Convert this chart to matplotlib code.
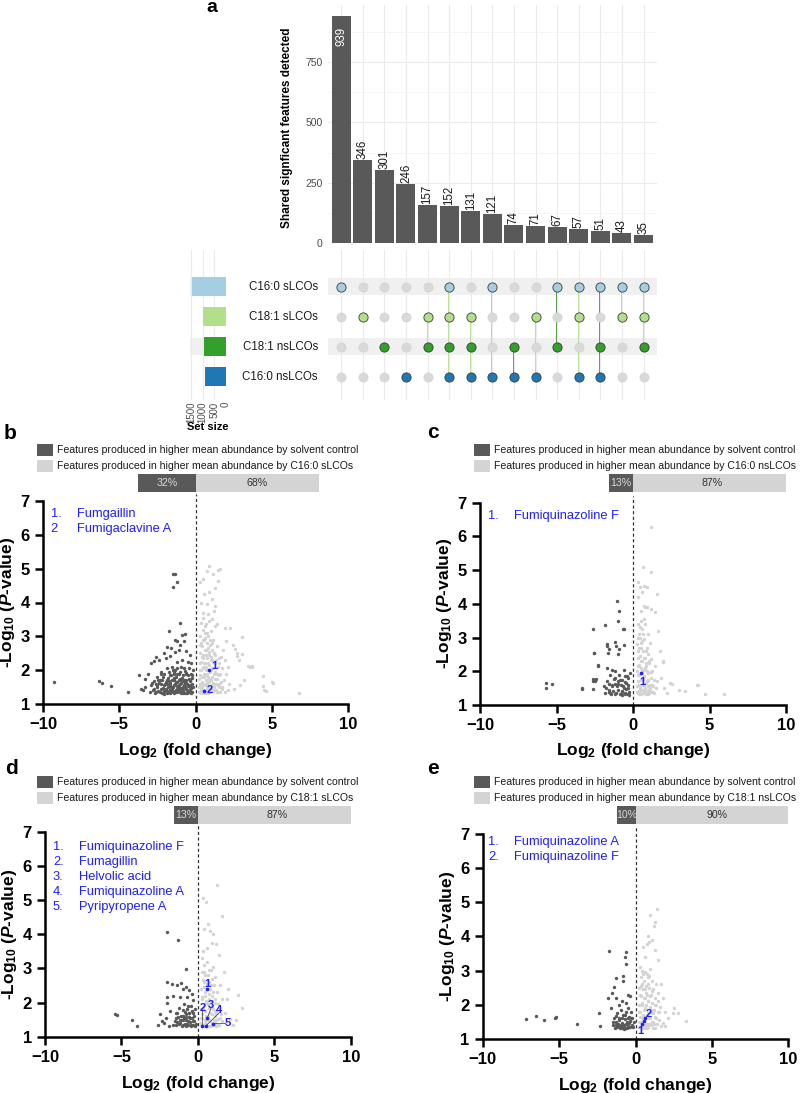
import numpy as np
import matplotlib
matplotlib.use("Agg")
from matplotlib import pyplot as plt
from matplotlib.patches import Rectangle

plt.rcParams['font.family'] = ['Liberation Sans', 'DejaVu Sans']
plt.rcParams['mathtext.fontset'] = 'custom'
plt.rcParams['mathtext.rm'] = 'Liberation Sans:bold'
plt.rcParams['mathtext.it'] = 'Liberation Sans:bold:italic'
plt.rcParams['mathtext.bf'] = 'Liberation Sans:bold'
plt.rcParams['mathtext.default'] = 'rm'

### upset data
set_names = ['C16:0 sLCOs', 'C18:1 sLCOs', 'C18:1 nsLCOs', 'C16:0 nsLCOs']
set_colors = ['#a6cee3', '#b2df8a', '#33a02c', '#1f78b4']
inter_sizes = [939, 346, 301, 246, 157, 152, 131, 121, 74, 71, 67, 57, 51, 43, 35]
inter_members = [[0], [1], [2], [3], [1, 2], [0, 1, 2, 3], [1, 2, 3], [0, 3], [2, 3],
                 [1, 3], [0, 2], [0, 1, 3], [0, 2, 3], [0, 1], [0, 1, 2]]
link_colors = [None, None, None, None, '#b2df8a', '#b2df8a', '#b2df8a', '#a6cee3', '#4a9a3a',
               '#b2df8a', '#3f8f30', '#b2df8a', '#33a02c', '#b2df8a', '#b2df8a']
set_sizes = [sum(v for v, m in zip(inter_sizes, inter_members) if k in m) for k in range(4)]

### volcano data (log2 fold change, -log10 p)
b_ctrl = [(-9.26,1.64),(-6.35,1.68),(-6.14,1.63),(-5.52,1.52),(-4.4,1.36),(-3.71,1.85),(-3.6,1.45),(-3.45,1.4),(-3.3,1.5),
          (-1.46,4.83),(-1.35,4.83),(-1.24,4.6),(-1.46,4.46),(-1.0,3.4),(-1.75,3.15),(-0.68,3.07),(-0.92,3.04),(-1.35,2.88),
          (-1.2,2.86),(-0.74,2.86),(-1.03,2.73),(-1.9,2.68),(-1.64,2.66),(-1.38,2.54),(-1.07,2.6),(-0.63,2.58),(-2.1,2.52),
          (-2.6,2.38),(-2.7,2.28),(-2.9,2.2),(-2.4,2.3),(-1.7,2.42),(-1.95,2.35),(-0.4,2.45),(-0.5,2.25),(-0.3,2.2),(-0.9,2.3),
          (-1.2,2.25),(-3.1,1.9),(-3.3,1.75),(-2.9,1.55),(-2.8,1.4),(-2.7,1.68),(-2.65,1.32),(-2.55,1.5),(-2.5,1.8),(-2.45,1.38),
          (-2.4,1.62),(-2.3,1.95),(-2.3,1.45),(-2.2,1.33),(-2.2,1.72),(-2.1,1.55),(-2.05,1.88),(-2.0,1.4),(-1.95,1.65),(-1.9,2.05),
          (-1.85,1.33),(-1.8,1.5),(-1.8,1.78),(-1.75,1.95),(-1.7,1.42),(-1.65,1.62),(-1.6,1.35),(-1.6,1.85),(-1.55,2.1),(-1.5,1.5),
          (-1.45,1.7),(-1.4,1.32),(-1.4,1.95),(-1.35,1.58),(-1.3,1.42),(-1.3,1.8),(-1.25,2.05),(-1.2,1.35),(-1.2,1.65),(-1.15,1.5),
          (-1.1,1.9),(-1.05,1.38),(-1.0,1.6),(-1.0,1.75),(-0.95,2.1),(-0.95,1.32),(-0.9,1.48),(-0.85,1.68),(-0.8,1.85),(-0.8,1.4),
          (-0.75,1.55),(-0.7,1.33),(-0.7,1.98),(-0.65,1.72),(-0.6,1.45),(-0.55,1.6),(-0.5,1.85),(-0.5,1.35),(-0.45,2.05),(-0.4,1.5),
          (-0.4,1.7),(-0.35,1.4),(-0.3,1.9),(-0.3,1.33),(-0.25,1.6),(-0.22,1.78),(-0.2,2.0),(-1.55,1.45),(-2.6,1.6),(-2.15,1.48),
          (-1.9,1.38),(-0.6,1.92),(-1.1,1.55),(-1.45,1.88),(-1.7,1.55),(-2.35,1.7),(-0.85,1.36),(-1.25,1.45),(-2.75,1.45),(-3.0,1.35),
          (-0.55,1.4),(-0.35,1.55),(-1.65,1.32),(-1.05,1.7),(-0.7,1.62),(-2.05,1.3),(-1.35,2.0),(-0.45,1.35),
          (-2.85,1.62),(-2.6,1.35),(-2.5,1.55),(-2.45,1.72),(-2.35,1.35),(-2.25,1.58),(-2.15,1.8),(-2.1,1.38),(-2.0,1.58),
          (-1.95,1.45),(-1.9,1.72),(-1.85,1.6),(-1.8,1.35),(-1.75,1.68),(-1.7,1.85),(-1.6,1.5),(-1.55,1.7),(-1.5,1.38),
          (-1.45,1.55),(-1.4,1.78),(-1.35,1.35),(-1.3,1.65),(-1.25,1.52),(-1.2,1.88),(-1.15,1.4),(-1.1,1.72),(-1.05,1.48),
          (-1.0,1.35),(-0.95,1.62),(-0.9,1.78),(-0.85,1.5),(-0.8,1.32),(-0.75,1.7),(-0.7,1.5),(-0.65,1.88),(-0.6,1.62),
          (-0.55,1.32),(-0.5,1.52),(-0.45,1.75),(-0.4,1.38),(-0.35,1.68),(-0.3,1.48),(-0.25,1.85),(-0.25,1.35),(-0.2,1.5),
          (-1.65,1.42),(-2.25,1.9),(-1.05,1.95),(-0.75,2.05),(-1.5,2.0)]
b_trt = [(0.85,5.08),(0.72,4.93),(1.48,4.95),(1.59,4.99),(1.16,4.83),(1.48,4.63),(1.27,4.44),(0.5,4.7),(0.3,4.6),(0.9,4.3),
         (0.55,4.25),(1.1,4.1),(0.35,4.0),(0.75,3.95),(1.3,3.9),(1.38,3.36),(1.94,3.26),(2.25,3.26),(3.01,2.97),(2.46,2.73),
         (3.05,2.47),(2.58,2.62),(2.69,2.5),(2.73,2.41),(2.84,2.31),(3.56,2.1),(3.71,2.1),(3.44,2.13),(3.67,2.13),(4.43,1.84),
         (5.04,1.61),(4.43,1.52),(4.59,1.39),(4.46,1.4),(6.77,1.32),(5.0,1.64),(2.0,1.9),(2.2,1.6),(2.5,1.45),(2.9,1.55),(3.2,1.7),
         (1.9,2.3),(2.1,2.1),(1.8,2.6),(2.0,2.85),(0.25,1.35),(0.3,1.6),(0.3,2.0),(0.3,2.5),(0.3,3.0),(0.35,1.45),(0.35,2.25),
         (0.35,3.4),(0.4,1.8),(0.4,2.7),(0.45,1.35),(0.45,2.1),(0.45,3.2),(0.5,1.55),(0.5,2.45),(0.5,3.55),(0.55,1.9),(0.55,2.9),
         (0.6,1.4),(0.6,2.2),(0.6,3.1),(0.65,1.7),(0.65,2.6),(0.7,1.32),(0.7,2.0),(0.7,3.35),(0.75,1.5),(0.75,2.35),(0.75,2.8),
         (0.8,1.8),(0.8,3.0),(0.85,1.4),(0.85,2.15),(0.85,2.55),(0.9,1.65),(0.9,3.45),(0.95,1.35),(0.95,1.95),(0.95,2.75),(1.0,2.3),
         (1.0,3.15),(1.05,1.55),(1.05,2.05),(1.1,1.8),(1.1,2.6),(1.15,1.38),(1.15,2.9),(1.2,2.2),(1.25,1.6),(1.25,3.3),(1.3,1.95),
         (1.3,2.45),(1.35,1.42),(1.4,1.75),(1.4,2.7),(1.45,2.1),(1.5,1.5),(1.55,1.85),(1.55,2.35),(1.6,1.35),(1.65,1.65),(1.7,2.05),
         (1.75,1.45),(0.4,1.5),(0.55,1.32),(0.65,1.55),(0.8,1.32),(1.2,1.5),(0.5,2.05),(0.9,2.45),(0.6,2.95),(0.35,2.8),(1.05,3.5),
         (0.45,3.7),(0.8,3.65),(1.2,3.75),(1.9,1.35),(2.1,1.4),(1.85,1.7),(0.28,1.85),(0.38,1.32),(0.62,1.85),(1.0,1.42),(1.35,1.58),
         (0.72,1.62),(0.48,2.35),
         (0.22,1.5),(0.25,1.75),(0.28,2.2),(0.3,2.75),(0.32,1.4),(0.38,2.0),(0.4,2.4),(0.42,1.65),(0.45,2.9),(0.5,1.4),
         (0.52,1.8),(0.55,2.2),(0.58,2.6),(0.6,1.6),(0.62,3.3),(0.65,1.35),(0.68,2.1),(0.7,2.45),(0.72,1.9),(0.75,3.1),
         (0.78,1.45),(0.8,2.2),(0.82,2.65),(0.85,1.75),(0.88,1.5),(0.9,2.0),(0.92,2.9),(0.95,1.5),(0.98,2.4),(1.0,1.7),
         (1.02,2.0),(1.05,2.8),(1.08,1.4),(1.1,2.3),(1.12,1.62),(1.15,2.05),(1.18,2.5),(1.2,1.9),(1.25,1.42),(1.28,2.2),
         (1.3,1.75),(1.35,2.3),(1.38,1.35),(1.42,1.9),(1.45,1.55),(1.5,2.2),(1.55,1.6),(1.6,1.9),(1.65,2.4),(1.7,1.5)]
b_hits = [(0.9,2.01), (0.55,1.39)]
b_hit_labels = [('1', 1.2, 2.11), ('2', 0.95, 1.41)]
b_names = [('1.', 'Fumgaillin'), ('2', 'Fumigaclavine A')]
b_pct = [32, 68]

c_ctrl = [(-5.7,1.66),(-5.7,1.51),(-5.27,1.62),(-3.35,1.47),(-2.53,2.53),(-2.27,2.19),(-2.64,1.78),(-2.4,1.76),(-1.72,2.81),
          (-1.18,2.86),(-1.02,4.09),(-0.94,3.78),(-1.0,3.49),(-2.64,3.26),(-1.83,3.36),(-0.68,3.24),(-0.62,3.24),(-1.7,2.75),
          (-1.55,2.65),(-1.65,2.55),(-1.1,2.75),(-0.9,2.65),(-1.0,2.5),(-0.61,2.78),(-2.55,2.55),(-2.27,2.16),(-1.72,2.11),
          (-2.64,1.71),(-2.46,1.71),(-3.35,1.49),(-2.64,1.46),(-1.9,1.55),(-1.8,1.35),(-1.7,1.7),(-1.6,1.45),(-1.5,1.9),
          (-1.45,1.32),(-1.4,1.6),(-1.3,1.42),(-1.25,1.78),(-1.2,2.0),(-1.1,1.35),(-1.05,1.55),(-1.0,1.7),(-0.95,1.45),(-0.9,1.9),
          (-0.85,1.33),(-0.8,1.6),(-0.75,1.75),(-0.7,1.42),(-0.65,1.55),(-0.6,2.05),(-0.55,1.35),(-0.5,1.68),(-0.45,1.48),
          (-0.4,1.85),(-0.35,1.33),(-0.3,1.58),(-0.25,1.4),(-0.2,1.95),(-1.35,2.05),(-0.7,1.3),(-1.15,1.62),(-0.55,1.85),(-1.55,1.4),
          (-1.75,1.5),(-1.6,1.62),(-1.5,1.35),(-1.35,1.55),(-1.2,1.32),(-1.15,1.8),(-0.95,1.62),(-0.85,1.75),(-0.75,1.4),
          (-0.6,1.5),(-0.5,1.32),(-0.45,1.65),(-0.35,1.5),(-0.3,1.8),(-0.25,1.3)]
c_trt = [(1.18,6.28),(0.68,5.1),(1.18,4.93),(0.35,4.66),(0.45,4.5),(0.7,4.52),(0.9,4.5),(1.59,4.29),(0.6,4.35),(0.3,4.2),
         (0.7,3.95),(0.8,3.9),(0.9,3.92),(1.44,3.77),(1.2,3.85),(0.5,3.8),(1.98,2.29),(2.53,1.63),(4.2,1.6),(4.7,1.32),(5.97,1.32),
         (3.4,1.41),(2.42,1.64),(4.23,1.59),(3.03,1.44),(1.94,2.31),(2.0,1.5),(1.8,1.8),(1.75,2.6),(1.65,3.2),(2.2,1.35),
         (0.25,1.4),(0.25,2.0),(0.25,2.8),(0.3,1.7),(0.3,2.4),(0.3,3.4),(0.35,1.35),(0.35,2.15),(0.4,1.9),(0.4,2.7),(0.4,3.1),
         (0.45,1.5),(0.45,2.45),(0.5,1.32),(0.5,2.1),(0.5,3.5),(0.55,1.75),(0.55,2.85),(0.6,1.45),(0.6,2.3),(0.6,3.25),(0.65,1.6),
         (0.65,2.6),(0.7,1.35),(0.7,2.05),(0.75,1.85),(0.75,2.95),(0.8,1.5),(0.8,2.4),(0.8,3.4),(0.85,1.32),(0.85,2.15),(0.9,1.7),
         (0.9,2.7),(0.95,1.45),(0.95,3.1),(1.0,1.95),(1.0,2.5),(1.05,1.35),(1.05,2.25),(1.1,1.6),(1.1,2.85),(1.15,1.8),(1.2,1.4),
         (1.2,2.35),(1.25,2.0),(1.3,1.55),(1.35,1.75),(1.4,1.35),(1.45,2.15),(1.5,1.5),(1.55,1.7),(0.38,1.58),(0.68,1.78),
         (0.42,1.32),(0.75,1.42),(0.58,2.0),(0.95,1.55),(1.12,1.42),(0.32,3.0),(0.48,3.3),(0.72,3.55),(0.88,2.25),
         (0.28,1.55),(0.32,1.9),(0.35,2.6),(0.42,2.2),(0.48,1.45),(0.52,2.7),(0.55,1.6),(0.6,1.95),(0.62,2.9),(0.65,1.35),
         (0.7,2.4),(0.72,1.6),(0.78,2.1),(0.82,1.65),(0.85,2.6),(0.9,1.4),(0.92,2.0),(0.98,1.75),(1.02,2.3),(1.08,1.5),
         (1.15,1.98),(1.22,1.6),(1.28,1.4),(0.45,3.0),(0.65,3.1),(0.55,2.3),(0.38,1.42),(1.0,1.32)]
c_hits = [(0.52,1.94)]
c_hit_labels = [('1', 0.62, 1.68)]
c_names = [('1.', 'Fumiquinazoline F')]
c_pct = [13, 87]

d_ctrl = [(-5.42,1.66),(-5.27,1.63),(-4.32,1.48),(-3.96,1.32),(-2.04,4.06),(-1.28,3.82),(-0.78,2.98),(-2.04,2.59),(-1.1,2.58),
          (-2.47,1.66),(-2.32,1.46),(-2.58,1.34),(-1.7,2.55),(-1.35,2.5),(-0.95,2.4),(-0.75,2.45),(-0.55,2.38),(-0.4,2.25),
          (-0.35,2.08),(-2.04,2.17),(-2.0,1.98),(-1.6,2.2),(-1.2,2.15),(-0.7,2.15),(-1.8,1.75),(-2.2,1.4),(-2.1,1.55),(-1.9,1.32),
          (-1.5,1.45),(-1.45,1.7),(-1.4,1.33),(-1.3,1.58),(-1.25,1.85),(-1.2,1.4),(-1.1,1.62),(-1.05,1.32),(-1.0,1.78),(-0.95,1.5),
          (-0.9,1.95),(-0.85,1.38),(-0.8,1.65),(-0.75,1.48),(-0.7,1.82),(-0.65,1.33),(-0.6,1.58),(-0.55,1.7),(-0.5,1.42),
          (-0.45,1.9),(-0.4,1.55),(-0.35,1.35),(-0.3,1.68),(-0.25,1.45),(-0.2,1.8),(-0.15,1.38),(-1.15,1.5),(-0.88,1.55),
          (-0.62,1.46),(-1.35,1.42),(-0.42,1.3),(-0.75,1.3),
          (-1.45,1.55),(-1.35,1.7),(-1.25,1.38),(-1.1,1.48),(-1.0,1.6),(-0.95,1.35),(-0.85,1.72),(-0.78,1.58),(-0.7,1.38),
          (-0.6,1.7),(-0.52,1.55),(-0.45,1.35),(-0.38,1.75),(-0.3,1.45),(-0.22,1.6),(-0.18,1.3),(-1.6,1.35),(-0.65,1.9)]
d_trt = [(0.31,5.05),(0.53,4.95),(1.27,5.45),(1.6,4.53),(0.68,4.3),(0.79,4.1),(1.0,4.0),(0.4,4.15),(0.9,3.75),(0.6,3.6),
         (1.2,3.7),(0.35,3.5),(1.4,3.4),(2.64,2.22),(2.86,1.85),(2.1,1.53),(2.3,1.35),(1.9,2.1),(2.0,2.4),(1.7,2.9),(1.8,1.7),
         (2.5,1.5),(0.15,1.4),(0.2,1.8),(0.2,2.4),(0.25,2.9),(0.3,1.55),(0.3,2.1),(0.35,1.35),(0.35,2.65),(0.4,1.95),(0.4,3.1),
         (0.45,1.5),(0.45,2.3),(0.5,1.75),(0.5,2.8),(0.55,1.38),(0.55,2.05),(0.6,2.55),(0.6,3.2),(0.65,1.6),(0.7,2.25),(0.7,1.32),
         (0.75,1.85),(0.75,2.95),(0.8,1.45),(0.8,2.4),(0.85,2.05),(0.9,1.65),(0.9,2.7),(0.95,1.35),(0.95,2.2),(1.0,1.8),(1.0,3.05),
         (1.05,1.5),(1.05,2.5),(1.1,2.0),(1.15,1.4),(1.15,2.75),(1.2,1.7),(1.25,2.3),(1.3,1.52),(1.35,1.95),(1.4,1.35),(1.45,2.5),
         (1.5,1.65),(1.55,2.1),(1.6,1.45),(0.25,1.65),(0.5,1.32),(0.65,1.95),(0.85,1.3),(1.2,1.32),(0.38,2.45),(0.72,2.6),
         (1.1,1.6),(0.62,1.5),(0.3,3.3),
         (0.2,1.55),(0.25,2.15),(0.3,1.35),(0.35,1.8),(0.4,2.6),(0.45,1.4),(0.5,2.2),(0.55,1.6),(0.6,2.0),(0.65,2.8),
         (0.7,1.5),(0.75,2.1),(0.8,1.7),(0.85,2.5),(0.9,1.4),(0.95,1.9),(1.0,2.3),(1.05,1.35),(1.1,1.75),(1.15,2.1),
         (1.2,1.5),(1.3,1.8),(1.35,1.35),(1.45,1.55),(0.42,2.9),(0.88,2.95)]
d_hits = [(0.57,2.39), (0.29,1.31), (0.62,1.55), (0.51,1.31), (0.97,1.38)]
d_hit_labels = [('1', 0.65, 2.55), ('2', 0.3, 1.83), ('3', 0.87, 1.92), ('4', 1.4, 1.78), ('5', 1.97, 1.39)]
d_names = [('1.', 'Fumiquinazoline F'), ('2.', 'Fumagillin'), ('3.', 'Helvolic acid'),
           ('4.', 'Fumiquinazoline A'), ('5.', 'Pyripyropene A')]
d_pct = [13, 87]

e_ctrl = [(-7.17,1.58),(-6.51,1.68),(-5.99,1.55),(-5.3,1.62),(-5.2,1.64),(-3.81,1.43),(-1.75,3.59),(-0.64,3.55),(-0.69,3.39),
          (-0.62,3.19),(-1.28,2.78),(-0.8,2.85),(-0.8,2.69),(-1.82,2.21),(-1.4,2.51),(-1.54,2.34),(-1.28,2.19),(-2.37,1.77),
          (-2.32,1.39),(-0.5,2.3),(-0.35,2.25),(-0.9,2.1),(-1.05,2.0),(-0.6,2.05),(-1.6,1.9),(-1.5,1.4),(-1.4,1.6),(-1.35,1.33),
          (-1.25,1.5),(-1.2,1.75),(-1.1,1.38),(-1.05,1.62),(-1.0,1.33),(-0.95,1.85),(-0.9,1.48),(-0.85,1.35),(-0.8,1.7),
          (-0.75,1.42),(-0.7,1.58),(-0.65,1.33),(-0.6,1.8),(-0.55,1.5),(-0.5,1.38),(-0.45,1.65),(-0.4,1.35),(-0.35,1.52),
          (-0.3,1.78),(-0.25,1.42),(-0.2,1.6),(-0.15,1.35),(-1.15,1.45),(-0.72,1.3),(-0.48,1.9),(-1.3,1.42),(-0.9,1.32),
          (-1.45,1.5),(-1.3,1.68),(-1.2,1.35),(-1.1,1.55),(-0.95,1.4),(-0.88,1.62),(-0.78,1.35),(-0.68,1.7),(-0.6,1.45),
          (-0.52,1.62),(-0.42,1.48),(-0.35,1.35),(-0.28,1.6),(-0.2,1.38),(-0.12,1.5),(-0.55,1.32)]
e_trt = [(1.39,4.81),(0.95,4.64),(1.28,4.43),(1.21,4.32),(0.8,4.0),(0.9,3.85),(0.75,3.78),(1.1,3.9),(0.5,3.7),(1.3,3.6),
         (0.6,3.4),(1.5,3.3),(2.52,1.9),(2.8,1.75),(3.29,1.53),(1.93,1.39),(1.82,1.47),(2.47,1.75),(1.8,2.2),(1.9,1.8),(2.1,1.6),
         (1.7,2.6),(0.3,3.1),(0.2,1.5),(0.22,2.0),(0.25,2.5),(0.3,1.35),(0.3,1.8),(0.35,2.25),(0.35,2.8),(0.4,1.6),(0.45,2.05),
         (0.45,3.0),(0.5,1.4),(0.5,2.45),(0.55,1.85),(0.55,2.7),(0.6,1.32),(0.6,2.2),(0.65,1.65),(0.65,2.95),(0.7,2.0),(0.7,2.55),
         (0.75,1.45),(0.75,2.3),(0.8,1.8),(0.8,2.8),(0.85,1.35),(0.85,2.1),(0.9,1.6),(0.9,2.5),(0.95,1.95),(0.95,3.05),(1.0,1.4),
         (1.0,2.3),(1.05,1.75),(1.05,2.7),(1.1,2.05),(1.15,1.5),(1.15,2.45),(1.2,1.85),(1.25,1.32),(1.25,2.2),(1.3,1.65),(1.35,2.0),
         (1.4,1.45),(1.45,1.8),(1.5,2.35),(1.55,1.55),(1.6,1.95),(1.65,1.38),(0.28,1.65),(0.42,1.32),(0.58,1.55),(0.72,1.32),
         (0.98,1.6),(1.12,1.32),(0.38,2.55),(0.62,2.45),(0.88,2.85),(1.32,2.6),
         (0.22,1.35),(0.25,1.8),(0.3,2.3),(0.35,1.5),(0.4,2.0),(0.45,2.6),(0.5,1.7),(0.55,2.2),(0.6,1.9),(0.65,1.4),
         (0.7,2.35),(0.75,1.7),(0.8,2.1),(0.85,2.6),(0.9,1.45),(0.95,2.25),(1.0,1.85),(1.05,1.5),(1.1,2.4),(1.15,1.75),
         (1.2,1.45),(1.25,2.0),(1.35,1.6),(1.45,2.1),(1.55,1.8),(0.5,2.9),(0.75,2.9)]
e_hits = [(0.42,1.45), (0.55,1.54), (0.65,1.6)]
e_hit_labels = [('1', 0.3, 1.22), ('2', 0.88, 1.73)]
e_names = [('1.', 'Fumiquinazoline A'), ('2.', 'Fumiquinazoline F')]
e_pct = [10, 90]

DARK = '#595959'
LIGHT = '#d3d3d3'
BLUE = '#1f1fff'

W, H = 800, 1093
fig = plt.figure(figsize=(8, 10.93), dpi=100)


def add_ax(x0, y0, x1, y1):
    return fig.add_axes([x0 / W, 1 - y1 / H, (x1 - x0) / W, (y1 - y0) / H])


def ftext(x, y, s, **kw):
    fig.text(x / W, 1 - y / H, s, **kw)


def box(x0, y0, x1, y1, c):
    fig.add_artist(Rectangle((x0 / W, 1 - y1 / H), (x1 - x0) / W, (y1 - y0) / H,
                             transform=fig.transFigure, color=c, lw=0))


# ---------------- panel a : intersection bars
n = len(inter_sizes)
ax = add_ax(328.2, 5.3, 656.5, 243)
ax.bar(range(n), inter_sizes, width=0.88, color=DARK, zorder=2)
ax.set_xlim(-0.6, n - 0.4)
ax.set_ylim(0, 985)
ax.set_yticks([0, 250, 500, 750])
ax.set_yticks([125, 375, 625, 875], minor=True)
ax.set_xticks(range(n))
ax.set_xticklabels([])
ax.grid(which='major', color='#ebebeb', lw=0.8, zorder=0)
ax.grid(which='minor', axis='y', color='#f2f2f2', lw=0.5, zorder=0)
ax.tick_params(which='both', length=0, labelsize=7.5, labelcolor='#4d4d4d', pad=4)
for s in ax.spines.values():
    s.set_visible(False)
for i, v in enumerate(inter_sizes):
    if v > 900:
        ax.text(i, v - 45, str(v), rotation=90, ha='center', va='top', fontsize=8.3, color='white')
    else:
        ax.text(i, v + 4, str(v), rotation=90, ha='center', va='bottom', fontsize=8.3, color='#1a1a1a')
ax.set_ylabel('Shared signficant features detected', fontsize=8.5, fontweight='bold')
ax.yaxis.set_label_coords(-0.107, 0.484)
ftext(212, 8, 'a', fontsize=14, fontweight='bold', ha='center', va='center')

# ---------------- matrix
row_y = [3, 2, 1, 0]
ylim_m = (-0.777, 4.223)
axm = add_ax(328.2, 250, 656.5, 400)
axm.set_xlim(-0.6, n - 0.4)
axm.set_ylim(*ylim_m)
axm.set_xticks(range(n))
axm.set_yticks([])
axm.set_xticklabels([])
axm.grid(axis='x', color='#ebebeb', lw=0.8, zorder=0)
axm.tick_params(length=0)
for s in axm.spines.values():
    s.set_visible(False)
for r in (0, 2):
    axm.axhspan(row_y[r] - 0.28, row_y[r] + 0.28, color='#f0f0f0', zorder=0.5, lw=0)
for i, mem in enumerate(inter_members):
    if len(mem) > 1:
        ys = [row_y[k] for k in mem]
        axm.plot([i, i], [min(ys), max(ys)], color=link_colors[i], lw=1.3, zorder=1.5)
    for k in range(4):
        if k in mem:
            axm.scatter(i, row_y[k], s=44, color=set_colors[k], edgecolor='#3a3a3a', lw=0.6, zorder=3)
        else:
            axm.scatter(i, row_y[k], s=44, color='#d9d9d9', edgecolor='#cfcfcf', lw=0.4, zorder=2)
for k, name in enumerate(set_names):
    ftext(318, 286.7 + 30 * k, name, fontsize=8.3, ha='right', va='center', color='#1a1a1a')

# ---------------- set size
axs = add_ax(190, 250, 226, 400)
axs.set_ylim(*ylim_m)
axs.set_xlim(1550, 0)
for r in (0, 2):
    axs.axhspan(row_y[r] - 0.28, row_y[r] + 0.28, color='#f0f0f0', zorder=0.5, lw=0)
axs.barh(row_y, set_sizes, height=0.62, color=set_colors, zorder=2)
axs.set_xticks([0, 500, 1000, 1500])
axs.set_xticklabels(['0', '500', '1000', '1500'], rotation=90, fontsize=7, color='#4d4d4d')
axs.set_yticks([])
axs.grid(axis='x', color='#ebebeb', lw=0.8, zorder=0)
axs.tick_params(length=0, pad=1)
for s in axs.spines.values():
    s.set_visible(False)
ftext(208, 427, 'Set size', fontsize=8, fontweight='bold', ha='center', va='center')


# ---------------- volcano panels
def volcano(axbox, letter, letter_xy, leg_x, leg_y, treat, pct, ctrl, trt, hits, hit_labels, lines, names, name_xy):
    x0, y0, x1, y1 = axbox
    # legend swatches
    box(leg_x, leg_y, leg_x + 16, leg_y + 12, DARK)
    box(leg_x, leg_y + 16, leg_x + 16, leg_y + 28, '#d4d4d4')
    ftext(leg_x + 20, leg_y + 6, 'Features produced in higher mean abundance by solvent control',
          fontsize=7.6, va='center', color='#1a1a1a')
    ftext(leg_x + 20, leg_y + 22, 'Features produced in higher mean abundance by ' + treat,
          fontsize=7.6, va='center', color='#1a1a1a')
    # percentage bar
    axp = add_ax(x0, leg_y + 29.5, x1, leg_y + 48)
    L = 11.85
    fd = pct[0] / 100
    axp.barh(0, fd * L, left=-fd * L, height=1, color=DARK)
    axp.barh(0, (1 - fd) * L, left=0, height=1, color='#d4d4d4')
    axp.text(-fd * L / 2, 0, f'{pct[0]}%', ha='center', va='center', fontsize=7.6, color='#d9d9d9')
    axp.text((1 - fd) * L / 2, 0, f'{pct[1]}%', ha='center', va='center', fontsize=7.6, color='#333333')
    axp.set_xlim(-10, 10)
    axp.set_ylim(-0.5, 0.5)
    axp.axis('off')

    ax = add_ax(x0, y0, x1, y1)
    c = np.array(ctrl)
    t = np.array(trt)
    ax.scatter(c[:, 0], c[:, 1], s=6, color=DARK, lw=0, zorder=2)
    ax.scatter(t[:, 0], t[:, 1], s=6, color=LIGHT, lw=0, zorder=2)
    h = np.array(hits)
    ax.scatter(h[:, 0], h[:, 1], s=7, color=BLUE, lw=0, zorder=4)
    for j, (lab, lx, ly) in enumerate(hit_labels):
        ax.text(lx, ly, lab, color=BLUE, fontsize=8, fontweight='bold', ha='center', va='center', zorder=5)
        if lines and j > 0:
            ax.plot([lx - (0.14 if j == 4 else 0), hits[j][0]], [ly - (0 if j == 4 else 0.08), hits[j][1]],
                    color='#333333', lw=0.5, zorder=3)
    ax.plot([0, 0], [1, 7.2], ls=(0, (2.5, 2)), color='#333333', lw=0.9, clip_on=False, zorder=1)
    ax.set_xlim(-10, 10)
    ax.set_ylim(1, 7)
    ax.set_xticks([-10, -5, 0, 5, 10])
    ax.set_yticks(range(1, 8))
    for s in ('top', 'right'):
        ax.spines[s].set_visible(False)
    for s in ('left', 'bottom'):
        ax.spines[s].set_linewidth(1.8)
    ax.tick_params(width=1.8, length=6, labelsize=12)
    for tl in ax.get_xticklabels() + ax.get_yticklabels():
        tl.set_fontweight('bold')
    ax.set_xlabel('Log$_2$ (fold change)', fontsize=12.5, fontweight='bold')
    ax.xaxis.set_label_coords(0.5, -0.18)
    ax.set_ylabel('-Log$_{10}$ ($\\mathit{P}$-value)', fontsize=12.5, fontweight='bold')
    ax.yaxis.set_label_coords(-0.085, 0.5)
    # named compounds
    nx, ny = name_xy
    for j, (num, nm) in enumerate(names):
        ftext(nx, ny + 15 * j, num, fontsize=9.3, color=BLUE, va='center')
        ftext(nx + 26, ny + 15 * j, nm, fontsize=9.3, color=BLUE, va='center')
    ftext(letter_xy[0], letter_xy[1], letter, fontsize=15, fontweight='bold', ha='center', va='center')


volcano((43, 501, 348.3, 704), 'b', (10, 433), 37, 444, 'C16:0 sLCOs', b_pct,
        b_ctrl, b_trt, b_hits, b_hit_labels, False, b_names, (50.7, 514.3))
volcano((480, 502.7, 786, 705), 'c', (433, 432), 474, 444, 'C16:0 nsLCOs', c_pct,
        c_ctrl, c_trt, c_hits, c_hit_labels, False, c_names, (488.3, 515.7))
volcano((45, 831.7, 350.7, 1036.7), 'd', (11, 768), 37, 776, 'C18:1 sLCOs', d_pct,
        d_ctrl, d_trt, d_hits, d_hit_labels, True, d_names, (53, 846.7))
volcano((482.7, 834, 788.3, 1039), 'e', (433, 768), 474, 776, 'C18:1 nsLCOs', e_pct,
        e_ctrl, e_trt, e_hits, e_hit_labels, False, e_names, (488.3, 842.3))

fig.savefig('out.png', dpi=100)
